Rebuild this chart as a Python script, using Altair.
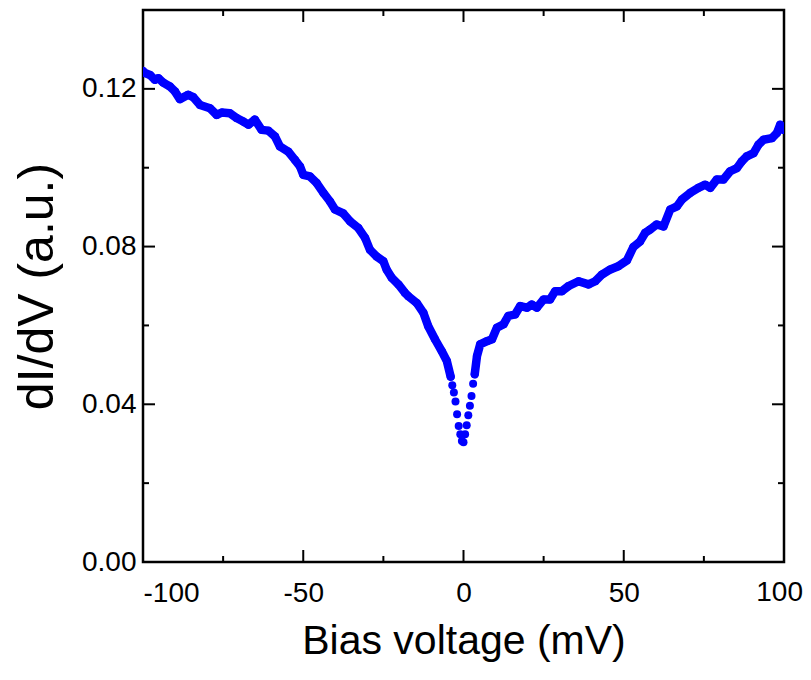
import altair as alt
import pandas as pd

# Bias voltage (mV) and dI/dV (a.u.)
bias_mv = [
    -100.0, -99.4, -97.8, -96.3, -95.2, -93.7, -91.6, -90.0, -88.5, -85.9, -84.3,
    -82.2, -79.1, -77.0, -75.4, -72.9, -70.8, -68.7, -67.1, -65.1, -63.0,
    -60.9, -58.8, -57.3, -54.7, -52.6, -51.0, -50.0, -47.9, -45.8, -43.7,
    -41.7, -40.1, -37.5, -35.4, -32.8, -30.7, -29.2, -27.1, -25.0, -24.0,
    -22.4, -20.3, -18.3, -17.2, -14.6, -12.5, -11.0, -8.9, -6.8, -5.2,
    -4.0, -3.5, -3.0, -2.5, -2.0, -1.5, -1.0, -0.5, 0.0, 0.5, 1.0, 1.5,
    2.0, 2.5, 3.0, 3.5, 4.2, 5.2, 7.3, 8.9, 10.4, 12.5, 14.0, 16.1, 17.7,
    19.8, 21.3, 22.9, 25.0, 27.0, 28.6, 30.7, 32.8, 35.9, 39.0, 41.1,
    43.2, 45.8, 48.3, 51.0, 53.0, 55.1, 56.7, 58.2, 60.3, 62.4, 64.5,
    66.6, 68.1, 70.7, 73.3, 75.4, 77.0, 79.0, 81.1, 83.2, 85.3, 86.8,
    88.4, 90.5, 92.0, 93.6, 96.2, 97.8, 98.8, 99.8,
]
didv = [
    0.1245, 0.1240, 0.1235, 0.1223, 0.1227, 0.1216, 0.1206, 0.1193, 0.1174, 0.1185, 0.1179,
    0.1159, 0.1151, 0.1134, 0.1140, 0.1138, 0.1126, 0.1117, 0.1109, 0.1122, 0.1096,
    0.1094, 0.1079, 0.1054, 0.1041, 0.1020, 0.1003, 0.0982, 0.0978, 0.0961, 0.0936,
    0.0915, 0.0894, 0.0884, 0.0864, 0.0847, 0.0822, 0.0792, 0.0775, 0.0763, 0.0742,
    0.0721, 0.0704, 0.0683, 0.0674, 0.0657, 0.0632, 0.0598, 0.0565, 0.0535, 0.0510,
    0.0470, 0.0448, 0.0430, 0.0407, 0.0375, 0.0345, 0.0324, 0.0307, 0.0304, 0.0324, 0.0347, 0.0372,
    0.0396, 0.0421, 0.0452, 0.0476, 0.0522, 0.0552, 0.0560, 0.0565, 0.0594, 0.0603, 0.0624, 0.0628, 0.0649,
    0.0645, 0.0653, 0.0645, 0.0666, 0.0666, 0.0687, 0.0687, 0.0700, 0.0712, 0.0704, 0.0712,
    0.0729, 0.0742, 0.0750, 0.0765, 0.0799, 0.0813, 0.0835, 0.0843, 0.0856, 0.0851, 0.0894,
    0.0902, 0.0919, 0.0936, 0.0949, 0.0957, 0.0949, 0.0970, 0.0970, 0.0991, 0.0999, 0.1016,
    0.1029, 0.1037, 0.1058, 0.1071, 0.1075, 0.1088, 0.1109, 0.1096,
]

x_labels = [-100, -50, 0, 50]
x_last_label = [100]
y_labels = [0.00, 0.04, 0.08, 0.12]
x_major = [-50, 0, 50]
x_minor = [-75, -25, 25, 75]
y_major = [0.04, 0.08, 0.12]
y_minor = [0.02, 0.06, 0.10]

W, H = 641, 552
RIGHT_PAD = 19
FONT = "Liberation Sans"
BLUE = "#0000ff"

df = pd.DataFrame({"v": bias_mv, "g": didv})
df["seg"] = ["L" if v <= -4.0 else ("R" if v >= 3.5 else "D") for v in bias_mv]

xs = alt.Scale(domain=[-100, 100], nice=False, zero=False)
ys = alt.Scale(domain=[0, 0.14], nice=False, zero=False)

x_enc = alt.X("v:Q", scale=xs, axis=alt.Axis(
    values=x_labels, title="Bias voltage (mV)", ticks=False, tickSize=0,
    labelExpr="datum.value < 0 ? '-' + abs(datum.value) : '' + datum.value",
    domain=False, grid=False, labelFontSize=28, labelPadding=17, labelColor="black",
    titleFontSize=41, titleFontWeight="normal", titlePadding=14, titleColor="black",
    labelFont=FONT, titleFont=FONT))
y_enc = alt.Y("g:Q", scale=ys, axis=alt.Axis(
    values=y_labels, format=".2f", title="dI/dV (a.u.)", ticks=False, tickSize=0,
    domain=False, grid=False, labelFontSize=28, labelPadding=7, labelColor="black",
    titleFontSize=50, titleFontWeight="normal", titlePadding=19, titleColor="black",
    labelFont=FONT, titleFont=FONT))

line = alt.Chart(df).transform_filter("datum.seg != 'D'").mark_line(
    color=BLUE, strokeWidth=8.5, strokeCap="round", strokeJoin="round", clip=True
).encode(x=x_enc, y=y_enc, detail="seg:N", order="v:Q")

dots = alt.Chart(df).mark_circle(color=BLUE, size=64, opacity=1, clip=True).encode(
    x=alt.X("v:Q", scale=xs), y=alt.Y("g:Q", scale=ys))

# last x tick label, kept inside the page's right edge
last_label = alt.Chart(pd.DataFrame({"t": x_last_label})).mark_text(
    align="right", baseline="top", fontSize=28, font=FONT, color="black", dx=RIGHT_PAD
).encode(x=alt.X("t:Q", scale=xs), y=alt.value(H + 17), text="t:Q")


def yticks(vals, length, side):
    d = pd.DataFrame({"t": vals})
    if side == "left":
        xa, xb = alt.value(0), alt.value(length)
    else:
        xa, xb = alt.value(W - length), alt.value(W)
    return alt.Chart(d).mark_rule(color="black", strokeWidth=2).encode(
        y=alt.Y("t:Q", scale=ys), x=xa, x2=xb)


def xticks(vals, length, side):
    d = pd.DataFrame({"t": vals})
    if side == "bottom":
        ya, yb = alt.value(H - length), alt.value(H)
    else:
        ya, yb = alt.value(0), alt.value(length)
    return alt.Chart(d).mark_rule(color="black", strokeWidth=2).encode(
        x=alt.X("t:Q", scale=xs), y=ya, y2=yb)


ticks = [
    yticks(y_major, 12, "left"), yticks(y_minor, 6, "left"),
    yticks(y_major, 12, "right"), yticks(y_minor, 6, "right"),
    xticks(x_major, 12, "bottom"), xticks(x_minor, 6, "bottom"),
    xticks(x_major, 12, "top"), xticks(x_minor, 6, "top"),
]

chart = alt.layer(line, dots, last_label, *ticks).properties(
    width=W, height=H,
    autosize=alt.AutoSizeParams(type="none"),
    padding={"left": 135, "top": 2, "right": RIGHT_PAD, "bottom": 104},
).configure(font=FONT, background="white").configure_view(
    stroke="black", strokeWidth=2.5)

chart.save("out.html", embed_options={"renderer": "svg", "actions": False})
